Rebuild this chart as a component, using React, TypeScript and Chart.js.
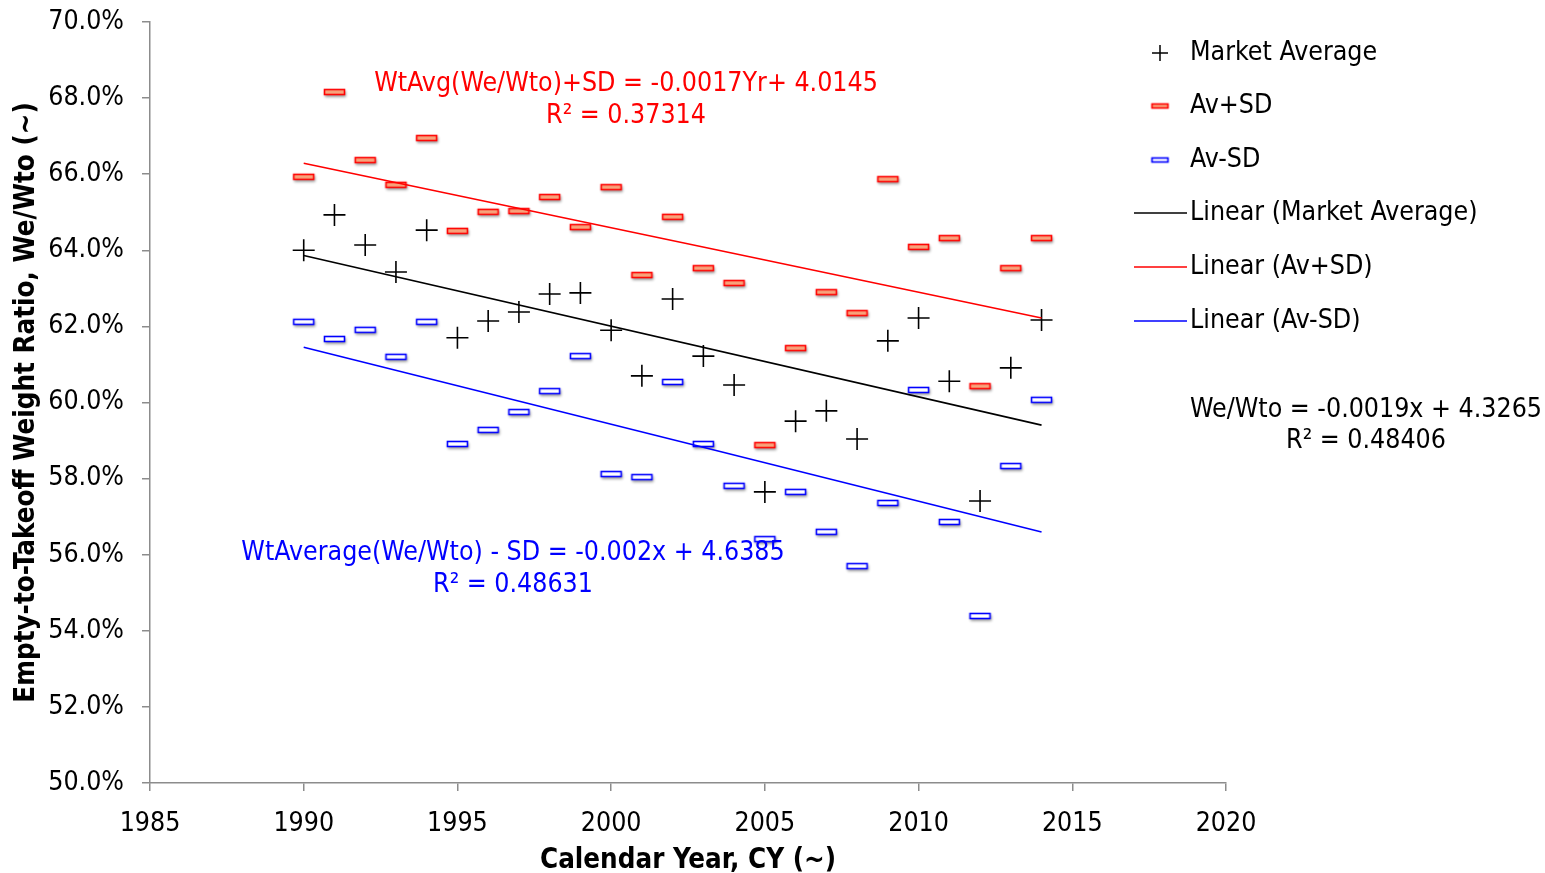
import React, { useEffect, useRef } from "react";
import { Chart, registerables } from "chart.js";

Chart.register(...registerables);

const years = [1990, 1991, 1992, 1993, 1994, 1995, 1996, 1997, 1998, 1999, 2000, 2001, 2002, 2003, 2004, 2005, 2006, 2007, 2008, 2009, 2010, 2011, 2012, 2013, 2014];
const marketAverage = [64.0, 64.93, 64.14, 63.43, 64.53, 61.7, 62.14, 62.38, 62.85, 62.88, 61.9, 60.7, 62.72, 61.22, 60.46, 57.65, 59.51, 59.78, 59.04, 61.62, 62.22, 60.56, 57.41, 60.91, 62.17];
const avPlusSD = [65.93, 68.16, 66.37, 65.72, 66.95, 64.51, 65.01, 65.03, 65.4, 64.61, 65.66, 63.35, 64.88, 63.53, 63.14, 58.88, 61.43, 62.9, 62.35, 65.87, 64.09, 64.32, 60.43, 63.53, 64.32];
const avMinusSD = [62.12, 61.67, 61.91, 61.2, 62.12, 58.91, 59.28, 59.75, 60.3, 61.22, 58.12, 58.04, 60.54, 58.91, 57.81, 56.41, 57.65, 56.6, 55.7, 57.36, 60.33, 56.86, 54.39, 58.33, 60.07];

const legendLabels = ["Market Average", "Av+SD", "Av-SD", "Linear (Market Average)", "Linear (Av+SD)", "Linear (Av-SD)"];
const redEqLines = ["WtAvg(We/Wto)+SD = -0.0017Yr+ 4.0145", "R\u00b2 = 0.37314"];
const blueEqLines = ["WtAverage(We/Wto) - SD = -0.002x + 4.6385", "R\u00b2 = 0.48631"];
const blackEqLines = ["We/Wto = -0.0019x + 4.3265", "R\u00b2 = 0.48406"];

const FONT = '"DejaVu Sans Condensed", "Liberation Sans", sans-serif';
const FS = 26.5;
const RED = "#ff0000";
const BLUE = "#0000ff";
const RED_FILL = "#f7a47c";
const AXIS = "#8c8c8c";

function linearFit(xs: number[], ys: number[]) {
  const n = xs.length;
  const mx = xs.reduce((a, b) => a + b, 0) / n;
  const my = ys.reduce((a, b) => a + b, 0) / n;
  let sxy = 0, sxx = 0;
  for (let i = 0; i < n; i++) {
    sxy += (xs[i] - mx) * (ys[i] - my);
    sxx += (xs[i] - mx) * (xs[i] - mx);
  }
  const m = sxy / sxx;
  return { m, b: my - m * mx };
}

function trend(ys: number[]) {
  const f = linearFit(years, ys);
  const x0 = years[0];
  const x1 = years[years.length - 1];
  return [
    { x: x0, y: f.m * x0 + f.b },
    { x: x1, y: f.m * x1 + f.b },
  ];
}

function dashMarker(stroke: string, fill: string, w: number, h: number, shadow: boolean) {
  const c = document.createElement("canvas");
  const pad = 5;
  c.width = w + pad * 2;
  c.height = h + pad * 2;
  const ctx = c.getContext("2d")!;
  if (shadow) {
    ctx.save();
    ctx.shadowColor = "rgba(0,0,0,0.4)";
    ctx.shadowBlur = 3;
    ctx.shadowOffsetX = 1;
    ctx.shadowOffsetY = 2;
    ctx.fillStyle = fill;
    ctx.fillRect(pad, pad, w, h);
    ctx.restore();
  }
  ctx.fillStyle = fill;
  ctx.fillRect(pad, pad, w, h);
  ctx.strokeStyle = stroke;
  ctx.lineWidth = 1.6;
  ctx.strokeRect(pad + 0.5, pad + 0.5, w - 1, h - 1);
  return c;
}

const legendAndText = {
  id: "legendAndText",
  afterDraw(chart: any) {
    const ctx = chart.ctx as CanvasRenderingContext2D;
    ctx.save();
    ctx.font = `${FS}px ${FONT}`;
    ctx.textBaseline = "middle";
    ctx.textAlign = "left";
    const ys = [53, 106, 160, 213, 267, 321];
    const mx = 1160;
    ctx.strokeStyle = "#000";
    ctx.lineWidth = 1.5;
    ctx.beginPath();
    ctx.moveTo(mx - 8, ys[0]);
    ctx.lineTo(mx + 8, ys[0]);
    ctx.moveTo(mx, ys[0] - 8);
    ctx.lineTo(mx, ys[0] + 8);
    ctx.stroke();
    const rm = dashMarker(RED, RED_FILL, 17, 5, false);
    ctx.drawImage(rm, mx - rm.width / 2, ys[1] - rm.height / 2);
    const bm = dashMarker(BLUE, "#ffffff", 17, 5, false);
    ctx.drawImage(bm, mx - bm.width / 2, ys[2] - bm.height / 2);
    const lineCols = ["#000", RED, BLUE];
    for (let i = 0; i < 3; i++) {
      ctx.strokeStyle = lineCols[i];
      ctx.lineWidth = 1.5;
      ctx.beginPath();
      ctx.moveTo(1134, ys[3 + i]);
      ctx.lineTo(1187, ys[3 + i]);
      ctx.stroke();
    }
    ctx.fillStyle = "#000";
    legendLabels.forEach((t, i) => ctx.fillText(t, 1190, ys[i]));

    ctx.textAlign = "center";
    ctx.fillStyle = RED;
    ctx.fillText(redEqLines[0], 626, 84);
    ctx.fillText(redEqLines[1], 626, 116);
    ctx.fillStyle = BLUE;
    ctx.fillText(blueEqLines[0], 513, 553);
    ctx.fillText(blueEqLines[1], 513, 585);
    ctx.fillStyle = "#000";
    ctx.fillText(blackEqLines[0], 1366, 410);
    ctx.fillText(blackEqLines[1], 1366, 441);
    ctx.restore();
  },
};

export default function App() {
  const ref = useRef<HTMLCanvasElement>(null);
  useEffect(() => {
    document.body.style.margin = "0";
    const toPts = (ys: number[]) => years.map((x, i) => ({ x, y: ys[i] }));
    const redMarker = dashMarker(RED, RED_FILL, 21, 6, true);
    const blueMarker = dashMarker(BLUE, "#ffffff", 21, 6, true);
    const chart = new Chart(ref.current!, {
      type: "scatter",
      data: {
        datasets: [
          {
            label: "Linear (Market Average)",
            type: "line",
            data: trend(marketAverage),
            borderColor: "#000",
            borderWidth: 1.6,
            pointRadius: 0,
            fill: false,
          } as any,
          {
            label: "Linear (Av+SD)",
            type: "line",
            data: trend(avPlusSD),
            borderColor: RED,
            borderWidth: 1.6,
            pointRadius: 0,
            fill: false,
          } as any,
          {
            label: "Linear (Av-SD)",
            type: "line",
            data: trend(avMinusSD),
            borderColor: BLUE,
            borderWidth: 1.6,
            pointRadius: 0,
            fill: false,
          } as any,
          {
            label: "Market Average",
            data: toPts(marketAverage),
            pointStyle: "cross",
            pointRadius: 11,
            borderColor: "#000",
            backgroundColor: "#000",
            borderWidth: 1.6,
          },
          {
            label: "Av+SD",
            data: toPts(avPlusSD),
            pointStyle: redMarker as any,
            pointRadius: 10,
          },
          {
            label: "Av-SD",
            data: toPts(avMinusSD),
            pointStyle: blueMarker as any,
            pointRadius: 10,
          },
        ],
      },
      options: {
        responsive: false,
        animation: false,
        layout: { autoPadding: false, padding: { left: 0, right: 319, top: 22, bottom: 0 } },
        plugins: { legend: { display: false }, tooltip: { enabled: false } },
        scales: {
          x: {
            type: "linear",
            min: 1985,
            max: 2020,
            afterFit: (s: any) => { s.height = 90; },
            ticks: {
              stepSize: 5,
              color: "#000",
              padding: 17,
              font: { family: FONT, size: FS },
              callback: (v: any) => String(v),
              maxRotation: 0,
            },
            grid: { display: true, drawOnChartArea: false, drawTicks: true, tickLength: 8, color: AXIS, lineWidth: 1.5 },
            border: { display: true, color: AXIS, width: 1.5 },
            title: {
              display: true,
              text: "Calendar Year, CY (~)",
              color: "#000",
              font: { family: FONT, size: 27.5, weight: "bold" },
              padding: { top: 0, bottom: -4 },
            },
          },
          y: {
            min: 50,
            max: 70,
            afterFit: (s: any) => { s.width = 150; s.paddingTop = 0; s.paddingBottom = 0; },
            ticks: {
              stepSize: 2,
              color: "#000",
              padding: 18,
              font: { family: FONT, size: FS },
              callback: (v: any) => Number(v).toFixed(1) + "%",
            },
            grid: { display: true, drawOnChartArea: false, drawTicks: true, tickLength: 8, color: AXIS, lineWidth: 1.5 },
            border: { display: true, color: AXIS, width: 1.5 },
            title: {
              display: true,
              text: "Empty-to-Takeoff Weight Ratio, We/Wto (~)",
              color: "#000",
              font: { family: FONT, size: 27.5, weight: "bold" },
              padding: { top: 10, bottom: 0 },
            },
          },
        },
      },
      plugins: [legendAndText],
    });
    return () => chart.destroy();
  }, []);
  return <canvas ref={ref} width={1545} height={873} style={{ display: "block" }} />;
}
